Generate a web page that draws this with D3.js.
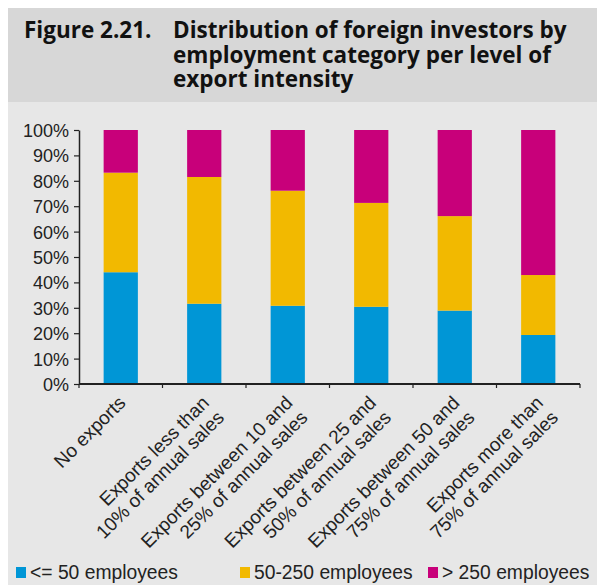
<!DOCTYPE html>
<html>
<head>
<meta charset="utf-8">
<script src="https://cdn.jsdelivr.net/npm/d3@7"></script>
<style>
  html, body { margin: 0; padding: 0; background: #ffffff; }
  svg { display: block; }
</style>
</head>
<body>
<svg id="chart" width="597" height="585"></svg>
<script>
// ---- data ----
const categories = [
  ["No exports"],
  ["Exports less than", "10% of annual sales"],
  ["Exports between 10 and", "25% of annual sales"],
  ["Exports between 25 and", "50% of annual sales"],
  ["Exports between 50 and", "75% of annual sales"],
  ["Exports more than", "75% of annual sales"]
];
const seriesNames = ["<= 50 employees", "50-250 employees", "> 250 employees"];
const small  = [44.0, 31.6, 30.8, 30.4, 28.9, 19.3];
const medium = [39.2, 49.9, 45.3, 40.9, 37.2, 23.6];
const large  = [16.8, 18.5, 23.9, 28.7, 33.9, 57.1];
const yTicks = [0, 10, 20, 30, 40, 50, 60, 70, 80, 90, 100];
const colors = ["#0096d6", "#f2b900", "#c8007a"];
const titleLabel = "Figure 2.21.";
const titleLines = ["Distribution of foreign investors by", "employment category per level of", "export intensity"];

// ---- layout ----
const svg = d3.select("#chart");
const W = 597, H = 585;
svg.append("rect").attr("x", 8).attr("y", 8).attr("width", W - 8).attr("height", 94).attr("fill", "#d7d7d7");
svg.append("rect").attr("x", 8).attr("y", 102).attr("width", W - 8).attr("height", H - 102).attr("fill", "#e7e7e7");

// title
const tFont = "'Open Sans', 'Noto Sans', sans-serif";
svg.append("text").attr("x", 24).attr("y", 38).text(titleLabel)
  .attr("font-family", tFont).attr("font-weight", 700).attr("font-size", 22.5).attr("fill", "#111");
const tt = svg.append("text")
  .attr("font-family", tFont).attr("font-weight", 700).attr("font-size", 22.5).attr("fill", "#111");
titleLines.forEach((l, i) => {
  tt.append("tspan").attr("x", 173).attr("y", 38 + i * 24.5).text(l);
});

const x0 = 79, x1 = 580, yTop = 130, yBot = 384;
const x = d3.scaleBand().domain(d3.range(categories.length)).range([x0, x1]).paddingInner(0.59).paddingOuter(0.295);
const y = d3.scaleLinear().domain([0, 100]).range([yBot, yTop]);

// stacked data
const rows = categories.map((c, i) => ({ i, s0: small[i], s1: medium[i], s2: large[i] }));
const stack = d3.stack().keys(["s0", "s1", "s2"])(rows);

const g = svg.append("g");
stack.forEach((layer, k) => {
  g.selectAll(null).data(layer).enter().append("rect")
    .attr("x", d => x(d.data.i))
    .attr("width", x.bandwidth())
    .attr("y", d => y(d[1]))
    .attr("height", d => y(d[0]) - y(d[1]))
    .attr("fill", colors[k]);
});

const lblFont = "'Liberation Sans', Arial, sans-serif";

// y axis
const yAxis = d3.axisLeft(y).tickValues(yTicks).tickFormat(d => d + "%").tickSize(5).tickSizeOuter(0);
const ya = svg.append("g").attr("transform", `translate(${x0},0)`).call(yAxis);
ya.select(".domain").attr("stroke", "#222").attr("stroke-width", 1.5);
ya.selectAll(".tick line").attr("stroke", "#222").attr("stroke-width", 1.2);
ya.selectAll(".tick text").attr("font-family", lblFont).attr("font-size", 18).attr("fill", "#222").attr("x", -10).attr("dy", "0.36em");

// x axis (band boundaries ticks)
const xa = svg.append("g");
xa.append("line").attr("x1", x0).attr("x2", x1).attr("y1", yBot).attr("y2", yBot).attr("stroke", "#222").attr("stroke-width", 1.8);
const step = x.step();
d3.range(categories.length + 1).forEach(j => {
  const xx = x0 + j * step;
  xa.append("line").attr("x1", xx).attr("x2", xx).attr("y1", yBot).attr("y2", yBot + 4).attr("stroke", "#222").attr("stroke-width", 1.2);
});

// x labels rotated
categories.forEach((lines, i) => {
  const cx = x(i) + x.bandwidth() / 2;
  const t = svg.append("text")
    .attr("transform", `translate(${cx + 6},${yBot + 20}) rotate(-45)`)
    .attr("text-anchor", "end")
    .attr("font-family", lblFont).attr("font-size", 19).attr("fill", "#222");
  lines.forEach((l, k) => {
    t.append("tspan").attr("x", 0).attr("y", k * 21).text(l);
  });
});

// legend
const legX = [16, 240, 428];
seriesNames.forEach((n, k) => {
  svg.append("rect").attr("x", legX[k]).attr("y", 567).attr("width", 10).attr("height", 11).attr("fill", colors[k]);
  svg.append("text").attr("x", legX[k] + 14).attr("y", 579).text(n)
    .attr("font-family", lblFont).attr("font-size", 19.3).attr("fill", "#222");
});
</script>
</body>
</html>
